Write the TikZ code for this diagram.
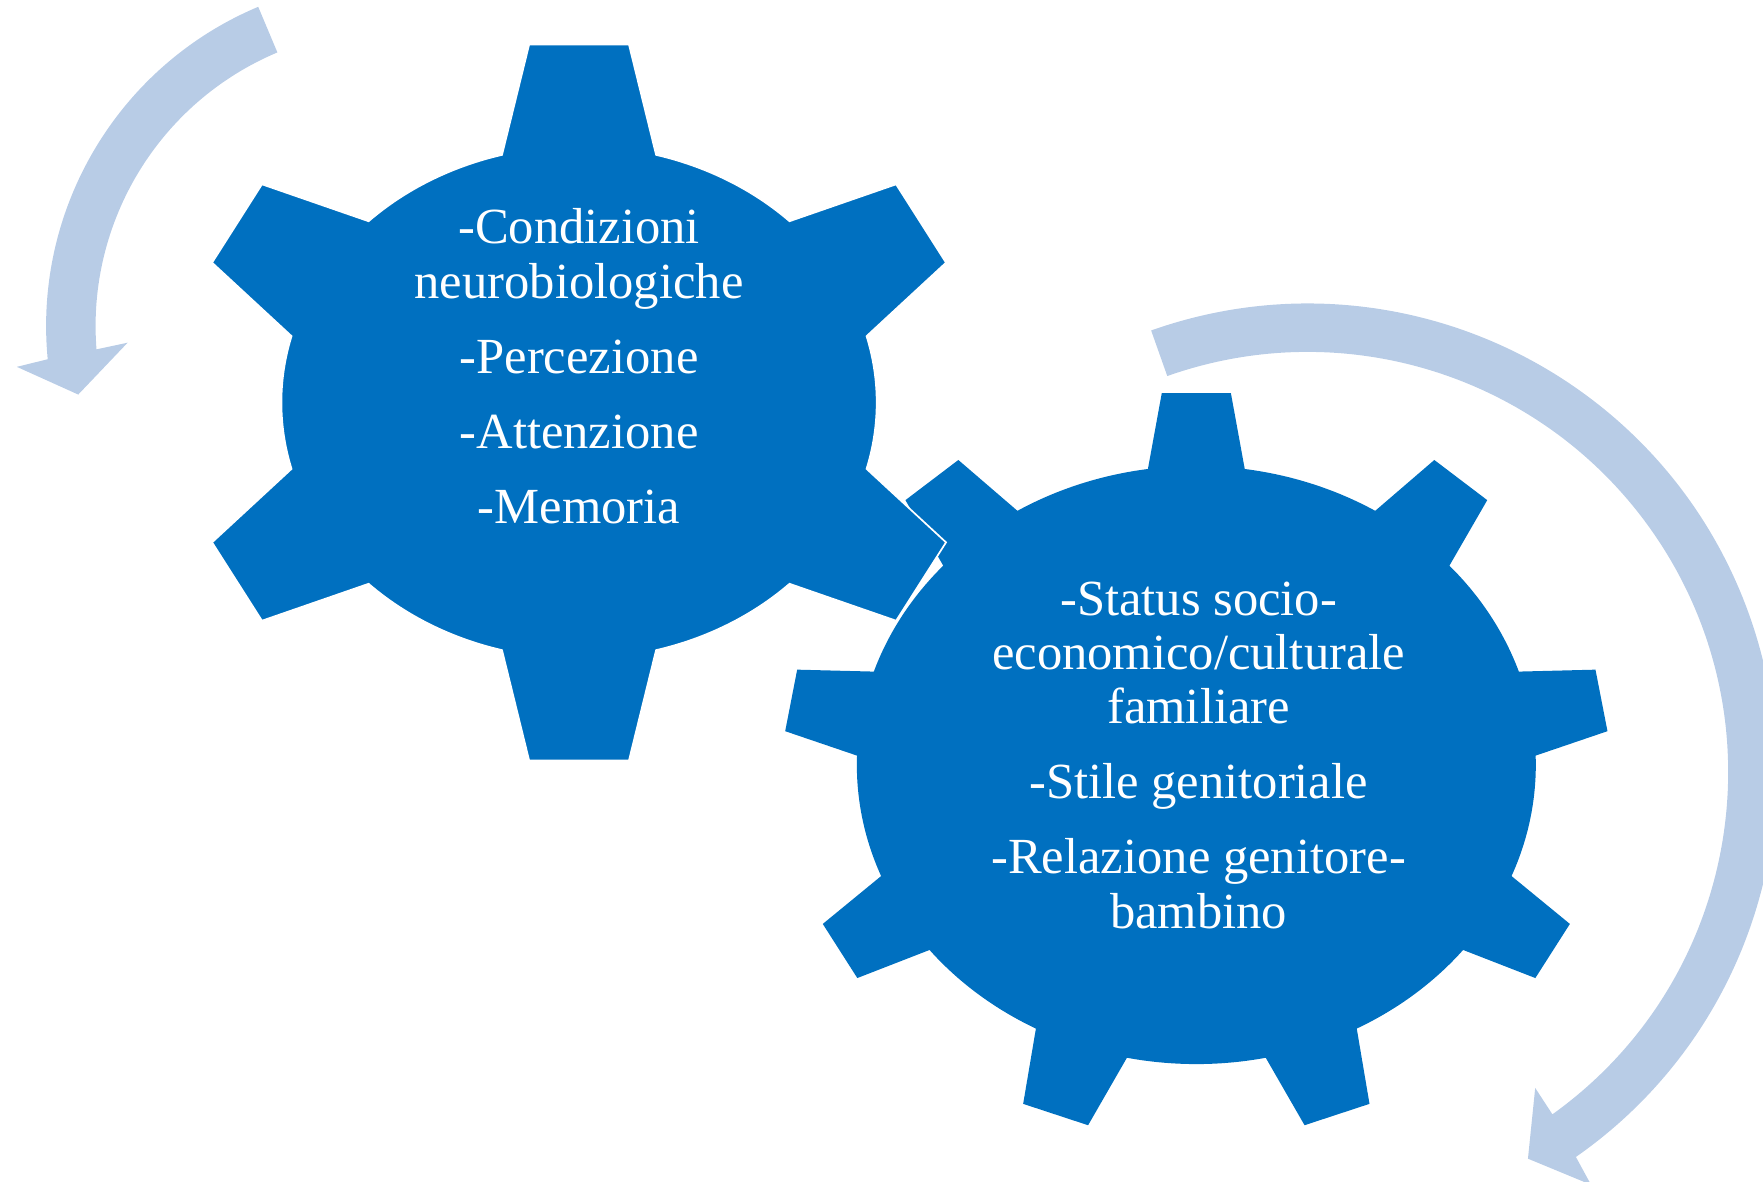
\documentclass[tikz,border=0pt]{standalone}
\usepackage{fontspec}
\setmainfont{Liberation Serif}
\definecolor{gearblue}{RGB}{0,112,192}
\definecolor{arrowblue}{RGB}{184,204,230}
\tikzset{
  gearfill/.style={fill=gearblue},
  cyclearrow/.style={fill=arrowblue},
  geartext/.style={text=white, align=center, inner sep=0pt,
    font=\fontsize{45}{48.3}\selectfont},
}
\begin{document}
\begin{tikzpicture}[x=1pt, y=1pt]
\useasboundingbox (0,0) rectangle (1568,1051);
\clip (0,0) rectangle (1568,1051);

% circular arrow, upper left (counter-clockwise)
\begin{scope}[shift={(349,761)}]
  \fill[cyclearrow] (112.8:308) arc[start angle=112.8, end angle=185.5, radius=308]
    -- (186.2:336) -- (192.3:286) -- (183.6:236) -- (184.5:264)
    arc[start angle=184.5, end angle=112.8, radius=264] -- cycle;
\end{scope}

% circular arrow, right (clockwise)
\begin{scope}[shift={(1163,364)}]
  \fill[cyclearrow] (109.5:417) arc[start angle=109.5, end angle=-55.1, radius=417]
    -- (-55.5:445) -- (-60.3:395.5) -- (-54.2:346) -- (-54.4:374)
    arc[start angle=-54.4, end angle=109.5, radius=374] -- cycle;
\end{scope}

% right gear: nine teeth on an elliptic body
\begin{scope}[shift={(1064,370.6)}, xscale=1.106]
  \fill[gearfill] (81.8:273 and 266)
    \foreach \k [evaluate=\k as \a using {90+(\k-1)*40}] in {1,...,9} {
      -- ({\a-4.8}:332) -- ({\a+4.8}:332) -- ({\a+8.2}:273 and 266)
      arc[start angle={\a+8.2}, end angle={\a+31.8}, x radius=273, y radius=266]
    } -- cycle;
\end{scope}

% left gear: six teeth, thin white rim where it overlaps
\begin{scope}[shift={(515,693)}, xscale=1.103]
  \filldraw[gearfill, draw=white, line width=1.5pt] (75:240 and 228)
    \foreach \k [evaluate=\k as \a using {90+(\k-1)*60}] in {1,...,6} {
      -- ({\a-7.2}:321) -- ({\a+7.2}:321) -- ({\a+15}:240 and 228)
      arc[start angle={\a+15}, end angle={\a+45}, x radius=240, y radius=228]
    } -- cycle;
\end{scope}

% lists; the base anchor sits on the last line
\node[geartext, anchor=base] (leftlist) at (515,585.6)
  {-Condizioni\\neurobiologiche\\[18.4pt]-Percezione\\[18.4pt]-Attenzione\\[18.4pt]-Memoria};
\node[geartext, anchor=base] (rightlist) at (1066,225.4)
  {-Status socio-\\economico/culturale\\familiare\\[18.4pt]-Stile genitoriale\\[18.4pt]-Relazione genitore-\\bambino};
\end{tikzpicture}
\end{document}
